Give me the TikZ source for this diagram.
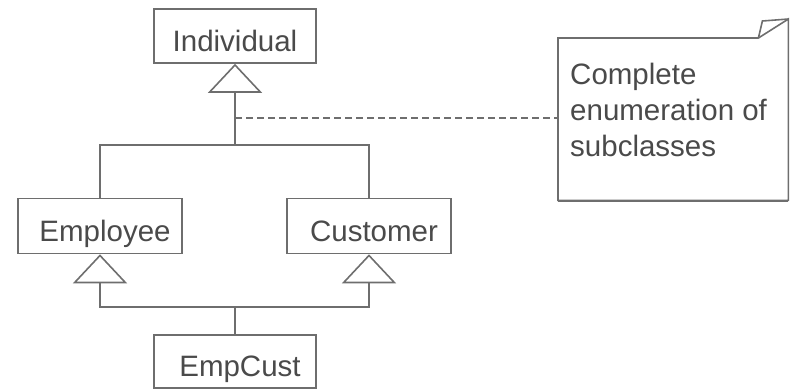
\documentclass[tikz,border=0pt]{standalone}
\usepackage{fontspec}
\setmainfont{Liberation Sans}
\usetikzlibrary{arrows.meta}
\definecolor{ln}{HTML}{6E6E6E}
\definecolor{tx}{HTML}{4A4A4A}
\begin{document}
\begin{tikzpicture}[x=1pt,y=-1pt,
  every node/.style={font=\fontsize{29.5}{36}\selectfont, text=tx},
  cls/.style={draw=ln, line width=1.6pt, inner sep=0pt, minimum width=164pt, minimum height=55pt, text height=30pt, text depth=0pt},
  conn/.style={draw=ln, line width=1.6pt},
  gen/.style={conn, -{Triangle[open, length=29pt, width=54pt, line width=1.6pt]}},
  notedash/.style={draw=ln, line width=1.6pt, dash pattern=on 7pt off 4pt}]
\useasboundingbox (0,0) rectangle (790,389);
\node[cls, minimum width=162pt, minimum height=54pt] (ind) at (235,36) {Individual};
\node[cls] (emp) at (100,226) {\hspace*{10pt}Employee};
\node[cls] (cus) at (369,226) {\hspace*{10pt}Customer};
\node[cls, minimum width=162pt, minimum height=53pt] (ec) at (235,361.5) {\hspace*{10pt}EmpCust};
\coordinate (top) at (235,145);
\coordinate (bot) at (235,307);
\coordinate (d1) at (235,118);
\draw[conn] (emp.north) |- (top) -| (cus.north);
\draw[gen] (top) -- (ind.south);
\draw[gen] (bot) -| (emp.south);
\draw[gen] (bot) -| (cus.south);
\draw[conn] (bot) -- (ec.north);
% note
\node[draw=none, inner sep=0pt, minimum width=230pt, minimum height=162pt, anchor=north west] (note) at (558,38) {};
\draw[conn, line join=miter] ([xshift=-30pt]note.north east) -- (note.north west) -- (note.south west) -- (note.south east) -- ([yshift=19pt]note.north east) -- cycle;
\draw[conn, line width=2.6pt] ([yshift=-0.5pt]note.south west) -- ([yshift=-0.5pt]note.south east);
\draw[conn, line join=miter] ([xshift=-30pt]note.north east) -- ([xshift=-26pt,yshift=17pt]note.north east) -- ([yshift=19pt]note.north east);
\node[anchor=north west, align=left, inner sep=0pt] (ntext) at (570,63) {Complete\\enumeration of\\subclasses};
\draw[notedash] (d1) -- (d1 -| note.west);
\end{tikzpicture}
\end{document}
